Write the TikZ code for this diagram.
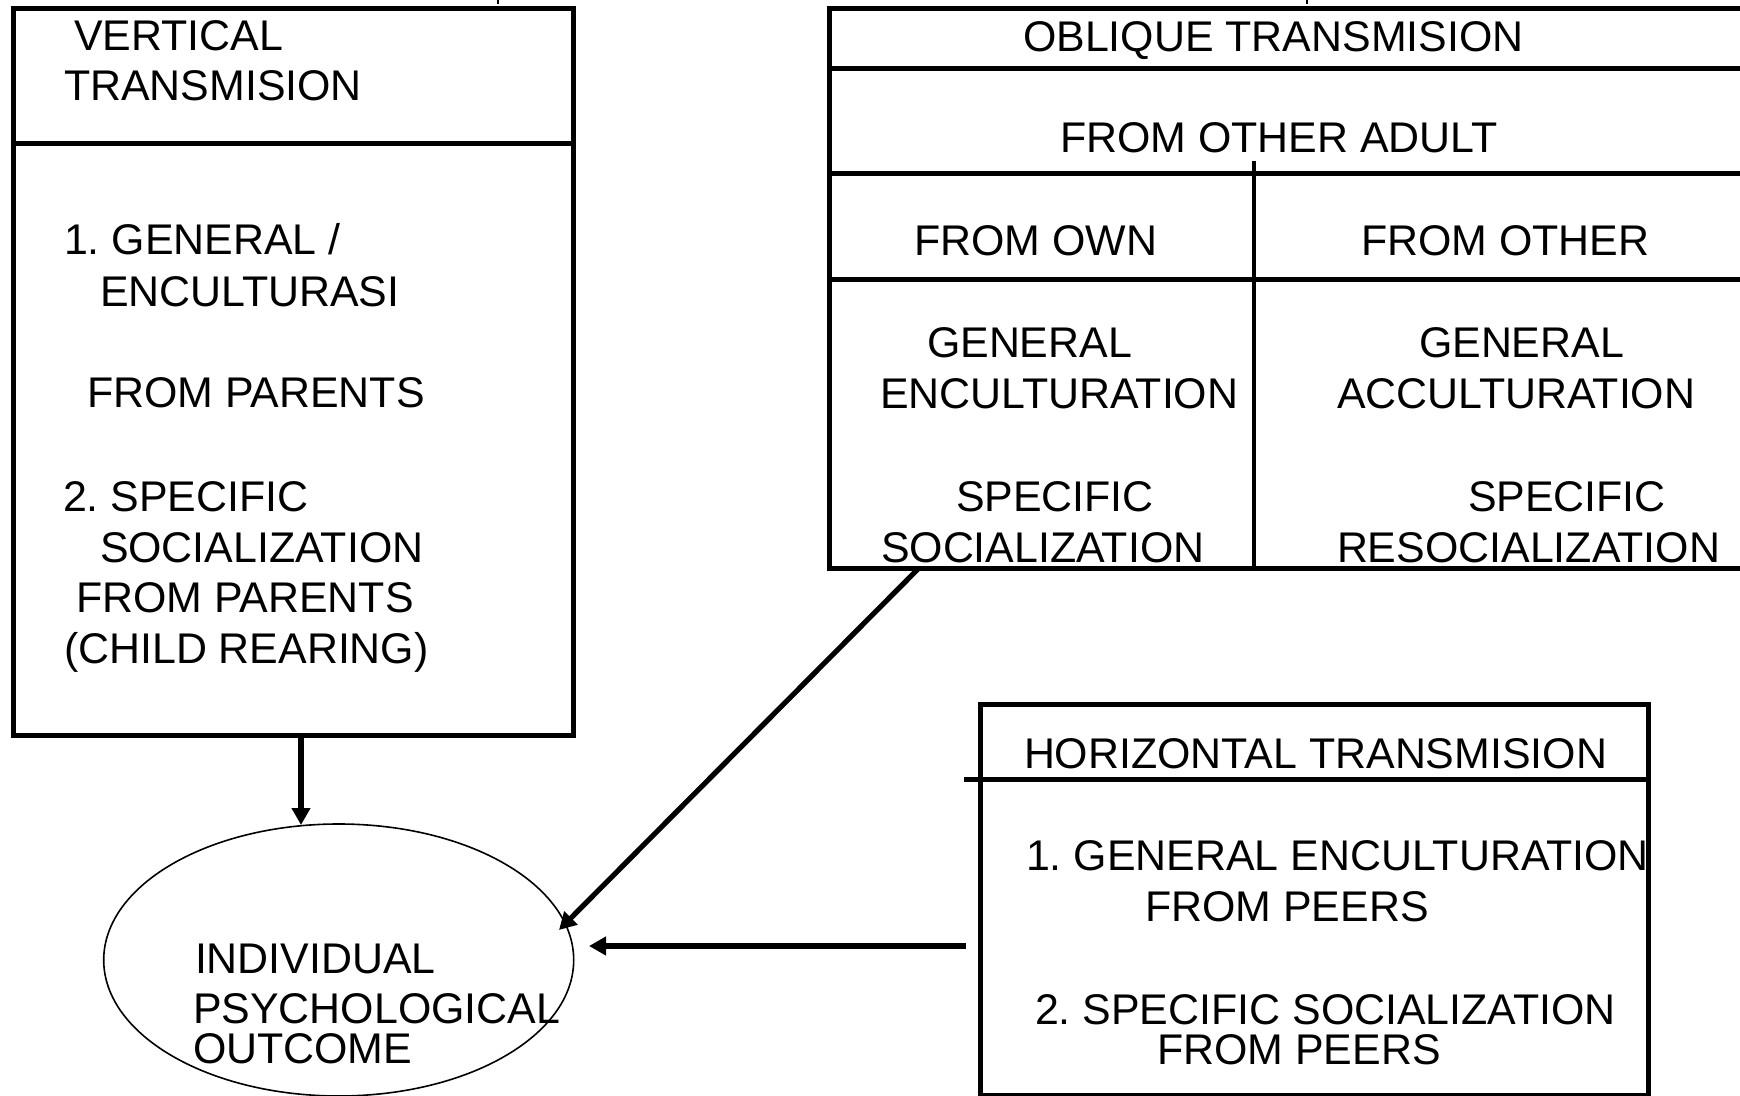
\documentclass[tikz,border=0pt]{standalone}
\usepackage{fontspec}
\setmainfont{Liberation Sans}
\usetikzlibrary{arrows.meta,shapes.geometric}
\frenchspacing
\tikzset{
  lbl/.style={anchor=base west, inner sep=0pt, outer sep=0pt, font=\fontsize{21.45}{25}\selectfont},
  boxline/.style={line width=2.5pt, line cap=rect},
  thinline/.style={line width=2pt},
  arr/.style={line width=2.6pt, -{Triangle[length=8.5pt,width=9pt]}},
  outl/.style={ellipse, draw, line width=0.8pt, inner sep=0pt, minimum width=235pt, minimum height=136pt}
}
\begin{document}
\begin{tikzpicture}[x=0.5pt,y=-0.5pt]
\frenchspacing
\useasboundingbox (0,0) rectangle (1740,1096);
% tiny marks at top
\draw[line width=1.2pt] (498,0) -- (498,4);
\draw[line width=1.2pt] (1307,0) -- (1307,4);

% ---------- Vertical transmission box ----------
\draw[boxline] (13,9) rectangle (573,735);
\draw[boxline] (13,144) -- (573,144);
\node[lbl] (v1) at (74,51) {VERTICAL};
\node[lbl] (v2) at (64,101) {TRANSMISION};
\node[lbl] (v3) at (64,255) {1. GENERAL /};
\node[lbl] (v4) at (100,307) {ENCULTURASI};
\node[lbl] (v5) at (87,408) {FROM PARENTS};
\node[lbl] (v6) at (63,511) {2. SPECIFIC};
\node[lbl] (v7) at (100,562) {SOCIALIZATION};
\node[lbl] (v8) at (76,612) {FROM PARENTS};
\node[lbl] (v9) at (64,663) {(CHILD REARING)};

% ---------- Oblique transmission box ----------
\draw[boxline] (1760,8.5) -- (829.5,8.5) -- (829.5,568) -- (1760,568);
\draw[boxline] (829.5,69) -- (1760,69);
\draw[boxline] (829.5,173.5) -- (1760,173.5);
\draw[boxline] (829.5,280) -- (1760,280);
\draw[thinline] (1254,161) -- (1254,568);
\node[lbl] (o1) at (1023,52) {OBLIQUE TRANSMISION};
\node[lbl] (o2) at (1060,153) {FROM OTHER ADULT};
\node[lbl] (o3) at (914,256) {FROM OWN};
\node[lbl] (o4) at (1361,256) {FROM OTHER};
\node[lbl] (o5) at (927,358) {GENERAL};
\node[lbl] (o6) at (880,409) {ENCULTURATION};
\node[lbl] (o7) at (956,511) {SPECIFIC};
\node[lbl] (o8) at (881,562) {SOCIALIZATION};
\node[lbl] (o9) at (1419,358) {GENERAL};
\node[lbl] (o10) at (1337,409) {ACCULTURATION};
\node[lbl] (o11) at (1468,511) {SPECIFIC};
\node[lbl] (o12) at (1337,562) {RESOCIALIZATION};

% ---------- Horizontal transmission box ----------
\draw[boxline] (980.5,1095) -- (980.5,704) -- (1648,704) -- (1648,1095) -- cycle;
\draw[boxline] (966,779.5) -- (1648,779.5);
\node[lbl] (h1) at (1024,768) {HORIZONTAL TRANSMISION};
\node[lbl] (h2) at (1026,870) {1. GENERAL ENCULTURATION};
\node[lbl] (h3) at (1145,921) {FROM PEERS};
\node[lbl] (h4) at (1035,1024) {2. SPECIFIC SOCIALIZATION};
\node[lbl] (h5) at (1157,1064) {FROM PEERS};

% ---------- Outcome ellipse ----------
\node[outl] (out) at (338.7,960) {};
\node[lbl] (e1) at (195,973) {INDIVIDUAL};
\node[lbl] (e2) at (193,1023) {PSYCHOLOGICAL};
\node[lbl] (e3) at (193,1063) {OUTCOME};

% ---------- Connectors ----------
\coordinate (vsrc) at (301,735);
\coordinate (vtip) at (301,825);
\coordinate (osrc) at (918,569);
\coordinate (otip) at (559,930);
\coordinate (hsrc) at (966,946);
\coordinate (htip) at (589,946);
\draw[arr] (vsrc) -- (vtip);
\draw[arr] (osrc) -- (otip);
\draw[arr] (hsrc) -- (htip);
\end{tikzpicture}
\end{document}
